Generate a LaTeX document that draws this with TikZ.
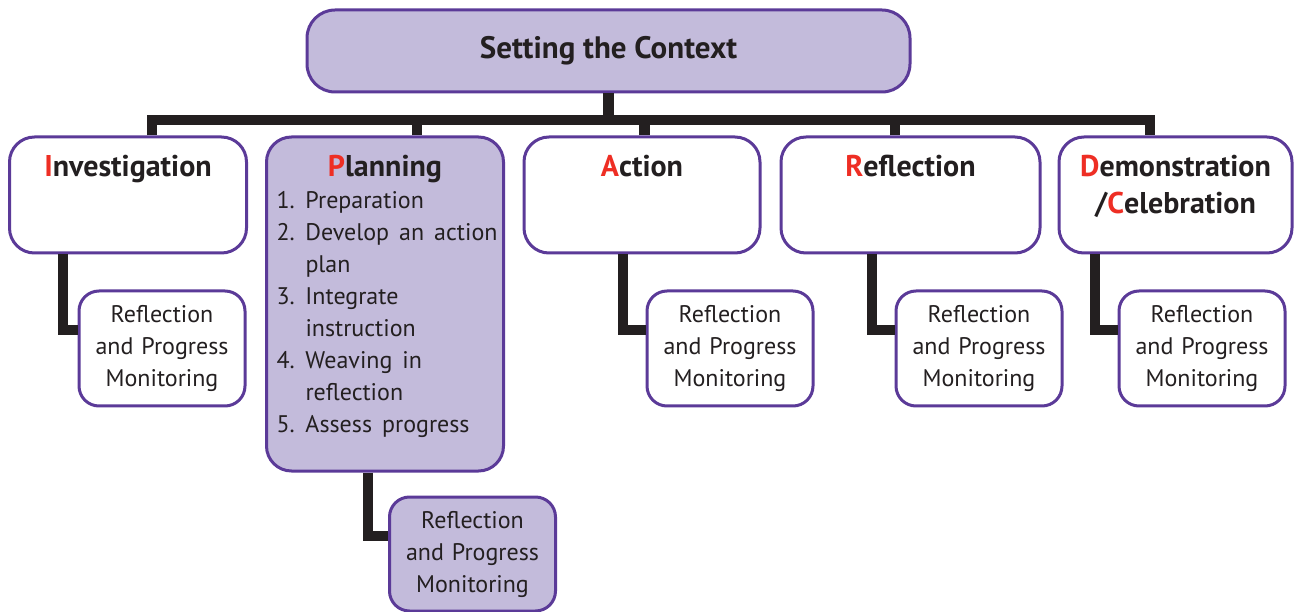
\documentclass[tikz,border=0pt]{standalone}
\usepackage{fontspec}
\setmainfont{PT Sans}
\usepackage{xcolor}
\usepackage{tikz}
\usetikzlibrary{calc}
\definecolor{lav}{HTML}{C3BBDB}
\definecolor{edge}{HTML}{5B3A98}
\definecolor{ink}{HTML}{231F20}
\definecolor{initred}{HTML}{EE2E24}
\newcommand{\headfont}{\fontsize{30}{37}\selectfont\bfseries}
\newcommand{\bodyfont}{\fontsize{24}{32}\selectfont\mdseries}
\newcommand{\initial}[1]{\textcolor{initred}{#1}}

\begin{document}
\begin{tikzpicture}[x=1pt, y=-1pt,
  box/.style={draw=edge, line width=3pt, rounded corners=25pt, text=ink, inner xsep=10pt, inner ysep=4pt},
  stage/.style={box, font=\headfont, align=center, text height=36, text depth=72},
  sub/.style={box, font=\bodyfont, align=center, text width=146, minimum height=115, rounded corners=20pt},
  link/.style={draw=ink, line width=10.5pt}]
  \useasboundingbox (0,0) rectangle (1294,612);
  \node[box, fill=lav, font=\headfont\fontsize{31}{37}\selectfont, minimum width=603, minimum height=82, rounded corners=28pt] (ctx) at (608.5,51) {Setting the Context};
  \node[stage, text width=217] (inv) at (128,195) {\initial{I}nvestigation};
  \node[stage, fill=lav, align=left, text width=217, text depth=290] (plan) at (385,304)
    {{\centering\initial{P}lanning\par}\bodyfont\vspace{-5pt}
     \begin{tabular}[t]{@{}p{29pt}@{}l@{}}
       1. & Preparation\\
       2. & Develop an action\\
          & plan\\
       3. & Integrate\\
          & instruction\\
       4. & Weaving in\\
          & reflection\\
       5. & Assess progress
     \end{tabular}};
  \node[stage, text width=216] (act) at (642,195) {\initial{A}ction};
  \node[stage, text width=239] (refl) at (910.5,195) {\initial{R}eflection};
  \node[stage, text width=213] (demo) at (1175.5,195) {\initial{D}emonstration\\/\initial{C}elebration};
  \node[sub] (invsub) at (162,348.5) {Reflection\\and Progress\\Monitoring};
  \node[sub, fill=lav, minimum height=114] (plansub) at (472.5,554) {Reflection\\and Progress\\Monitoring};
  \node[sub] (actsub) at (730,348.5) {Reflection\\and Progress\\Monitoring};
  \node[sub] (reflsub) at (979,348.5) {Reflection\\and Progress\\Monitoring};
  \node[sub] (demosub) at (1202,348.5) {Reflection\\and Progress\\Monitoring};
  \coordinate (hub) at ([yshift=-26.5]ctx.south);
  \draw[link] (ctx.south) -- (hub);
  \draw[link] ([xshift=24]inv.north) |- (hub) -| ([xshift=-25.5]demo.north);
  \draw[link] ([xshift=32]plan.north) |- (hub);
  \draw[link] ([xshift=2.5]act.north) |- (hub);
  \draw[link] ([xshift=-15.5]refl.north) |- (hub);
  \draw[link] ([xshift=-65]inv.south) |- ([yshift=18.5]invsub.west);
  \draw[link] ([xshift=-17]plan.south) |- ([yshift=18]plansub.west);
  \draw[link] ([xshift=-19]act.south) |- ([yshift=18.5]actsub.west);
  \draw[link] ([xshift=-38.5]refl.south) |- ([yshift=18.5]reflsub.west);
  \draw[link] ([xshift=-80.5]demo.south) |- ([yshift=18.5]demosub.west);
\end{tikzpicture}
\end{document}
